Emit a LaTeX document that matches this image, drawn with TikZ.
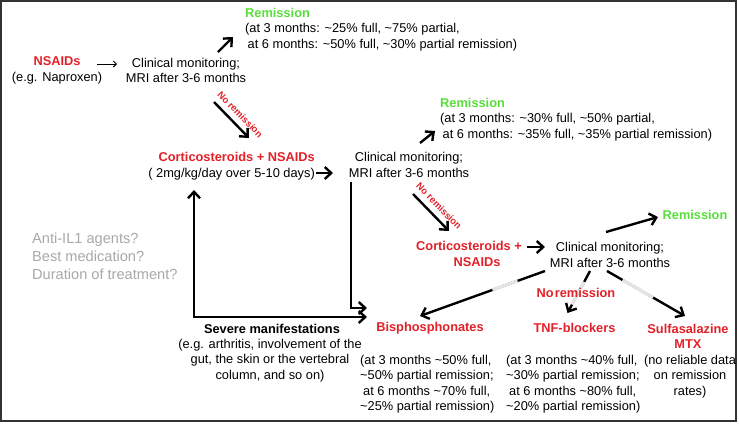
\documentclass[tikz,border=0pt]{standalone}
\usepackage{fontspec}
\setmainfont{Liberation Sans}
\usetikzlibrary{arrows.meta}
\definecolor{remred}{RGB}{226,32,40}
\definecolor{remgreen}{RGB}{88,222,58}
\definecolor{qgray}{RGB}{168,168,168}
\newcommand{\apx}{\textasciitilde}
\begin{document}
\begin{tikzpicture}[x=1pt, y=-1pt,
    every node/.style={font=\fontsize{12.8}{15.5}\selectfont, inner sep=0pt},
    txt/.style={align=center},
    drug/.style={align=center, text=remred, font=\fontsize{12.8}{15.5}\selectfont\bfseries},
    rem/.style={text=remgreen, font=\fontsize{12.8}{15.5}\selectfont\bfseries},
    arr/.style={line width=2.4pt, -{Straight Barb[length=6.5pt,width=12pt]}},
    arrb/.style={line width=2.4pt, {Straight Barb[length=6.5pt,width=12pt]}-{Straight Barb[length=6.5pt,width=12pt]}},
    nolab/.style={sloped, above=5.5pt, text=remred, font=\fontsize{9.5}{11}\selectfont\bfseries},
    fade/.style={line width=3pt, black!10}]
\useasboundingbox (0,0) rectangle (739,424);
\draw[line width=1.5pt, black!80] (1,1) rectangle (736,421);
% monitoring steps
\foreach \n/\x/\y in {cm1/186/70.5, cm2/409/165, cm3/610/255} {
    \node[txt] (\n) at (\x,\y) {Clinical monitoring;\\MRI after 3-6 months};
}
% first line
\node[txt] (nsaid) at (57,70.5) {\textcolor{remred}{\bfseries NSAIDs}\\(e.g. Naproxen)};
\node[align=left, anchor=west] (rem1) at (245,29.5) {\textcolor{remgreen}{\bfseries Remission}\\(at 3 months: \apx25\% full, \apx75\% partial,\\\hspace*{2.5pt}at 6 months: \apx50\% full, \apx30\% partial remission)};
% second line
\node[drug, align=right, anchor=east] (cs1) at (315,166) {Corticosteroids + NSAIDs\\\textcolor{black}{\mdseries( 2mg/kg/day over 5-10 days)}};
\node[align=left, anchor=west] (rem2) at (440,119.5) {\textcolor{remgreen}{\bfseries Remission}\\(at 3 months: \apx30\% full, \apx50\% partial,\\\hspace*{2.5pt}at 6 months: \apx35\% full, \apx35\% partial remission)};
% third line
\node[drug] (cs2) at (469,254) {Corticosteroids +\\\hspace*{16pt}NSAIDs};
\node[rem] (rem3) at (695,215) {Remission};
% options
\node[drug] (bis) at (430,328) {Bisphosphonates};
\node[align=left, anchor=west] (bisx) at (360,384) {(at 3 months \apx50\% full,\\\apx50\% partial remission;\\\hspace*{3pt}at 6 months \apx70\% full,\\\apx25\% partial remission)};
\node[drug] (tnf) at (574.5,328) {TNF-blockers};
\node[align=left, anchor=west] (tnfx) at (506,384) {(at 3 months \apx40\% full,\\\apx30\% partial remission;\\\hspace*{3pt}at 6 months \apx80\% full,\\\apx20\% partial remission)};
\node[drug] (mtx) at (688,336.5) {Sulfasalazine\\MTX};
\node[txt] (mtxx) at (690,376.5) {(no reliable data\\on remission\\rates)};
\node[txt, font=\fontsize{12.8}{15.5}\selectfont\bfseries] (sev) at (272,329) {Severe manifestations};
\node[txt] (sevx) at (270,360.5) {(e.g. arthritis, involvement of the\\gut, the skin or the vertebral\\column, and so on)};
\node[align=left, anchor=west, text=qgray, font=\fontsize{14.6}{18}\selectfont] (open) at (32,256) {Anti-IL1 agents?\\Best medication?\\Duration of treatment?};
% arrows
\draw[line width=1pt, -{Straight Barb[length=3pt,width=6pt]}] ([shift={(40,-6.5)}]nsaid.center) -- ([shift={(-69,-6.5)}]cm1.center);
\draw[arr] ([shift={(32,-18.5)}]cm1.center) -- ([shift={(-12,7.5)}]rem1.west);
\draw[arr] ([shift={(28,31.5)}]cm1.center) -- ([shift={(-66,-28)}]cs1.east) node[nolab, pos=.54] {No remission};
\draw[arr] ([shift={(1,7)}]cs1.east) -- ([shift={(-76,8)}]cm2.center);
\draw[arr] ([shift={(11,-22)}]cm2.center) -- ([shift={(-5,11.5)}]rem2.west);
\draw[arr] ([shift={(4,29)}]cm2.center) -- ([shift={(-20,-23)}]cs2.center) node[nolab, pos=.52] {No remission};
\draw[arr] ([shift={(58,-7)}]cs2.center) -- ([shift={(-65,-8)}]cm3.center);
\draw[arr] ([shift={(-4,-23)}]cm3.center) -- ([shift={(-37,2)}]rem3.center);
\draw[arr] ([shift={(-58,17)}]cm2.center) |- ([shift={(-63,-20)}]bis.center);
\draw[arrb] ([shift={(-121,24)}]cs1.east) |- ([shift={(-63,-11)}]bis.center);
% no remission branches
\foreach \nm/\sx/\ex/\ey/\pa/\pb in {bis/-65/-10/-12/.22/.42, tnf/-20/-7/-15/.26/.8, mtx/-3/-3/-20.5/.2/.59} {
    \draw[arr] ([shift={(\sx,16)}]cm3.center) -- ([shift={(\ex,\ey)}]\nm.center)
        coordinate[pos=\pa] (a\nm) coordinate[pos=\pb] (b\nm);
    \draw[fade] (a\nm) -- (b\nm);
}
\node[drug] (nrem) at (576,293) {No\kern1pt remission};
\end{tikzpicture}
\end{document}
